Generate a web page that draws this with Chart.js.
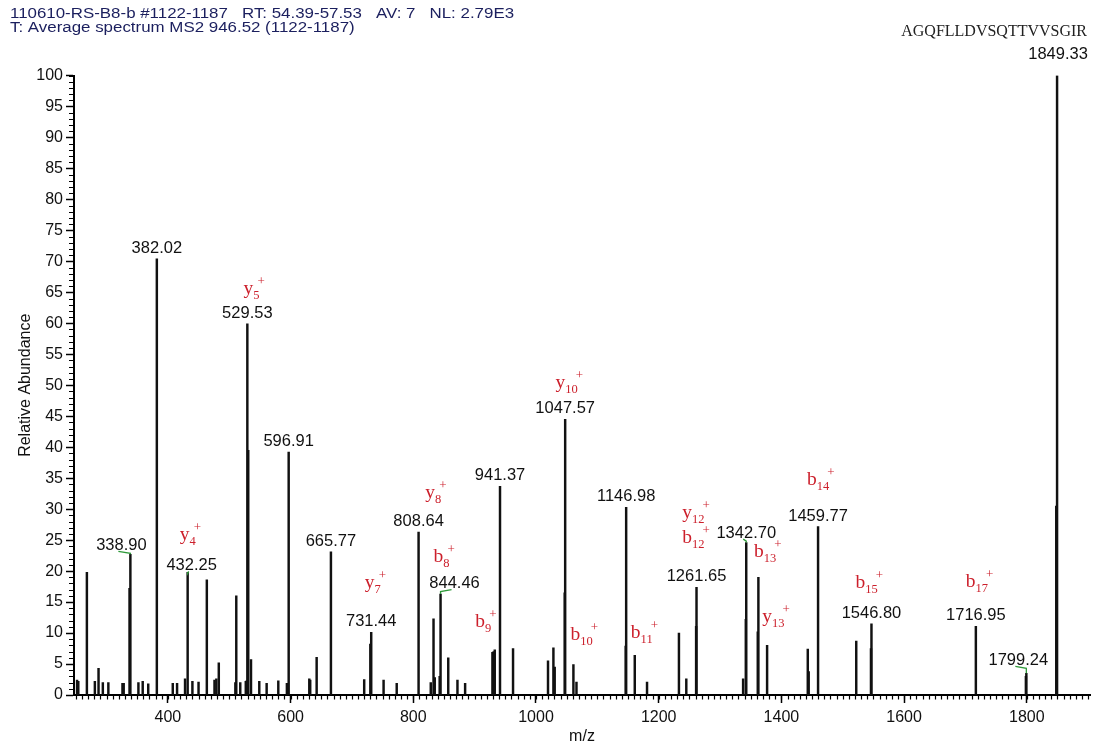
<!DOCTYPE html>
<html>
<head>
<meta charset="utf-8">
<script src="https://cdn.jsdelivr.net/npm/chart.js@4.4.1/dist/chart.umd.min.js"></script>
<style>
html, body { margin: 0; padding: 0; background: #fff; }
</style>
</head>
<body>
<canvas id="spectrumChart" width="1093" height="742"></canvas>
<script>
// Peaks: m/z and relative abundance (%)
const peakMz = [
    252, 254, 268, 281, 287, 294, 303, 326, 328, 337.5, 338.9, 352, 359, 368,
    382.02, 408, 415, 428, 432.25, 440, 450, 463.5, 476, 479, 483, 510, 511.5,
    518, 527, 528.5, 529.53, 531, 535.5, 549, 561, 580, 594, 596.91, 630.5,
    632, 642.5, 665.77, 720, 730, 731.44, 751.6, 773, 808.64, 828.5, 833, 835,
    843, 844.46, 857, 872, 884.5, 929, 931, 932.8, 941.37, 962.6, 1019.6,
    1028.4, 1030.5, 1046.8, 1047.57, 1061, 1066, 1146.2, 1146.98, 1161, 1181,
    1233, 1245, 1261, 1261.65, 1337.6, 1342, 1342.7, 1361.5, 1362.5, 1376.7,
    1443, 1444.5, 1459.77, 1522, 1546, 1546.8, 1716.95, 1798.5, 1799.24,
    1848, 1849.33
];
const peakAbundance = [
    2.4, 2.2, 19.8, 2.2, 4.3, 2.0, 2.0, 1.9, 1.9, 17.2, 22.7, 2.0, 2.2, 1.8,
    70.4, 1.9, 1.9, 2.6, 19.8, 2.2, 2.1, 18.6, 2.4, 2.6, 5.2, 2.0, 16.0,
    2.0, 2.2, 2.3, 59.9, 39.5, 5.7, 2.2, 1.9, 2.3, 1.9, 39.2, 2.6,
    2.4, 6.1, 23.1, 2.5, 8.2, 10.1, 2.4, 1.9, 26.3, 2.0, 12.3, 2.8,
    3.0, 16.3, 6.0, 2.4, 1.9, 6.9, 7.0, 7.3, 33.7, 7.5, 5.5,
    7.6, 4.5, 16.5, 44.5, 4.9, 2.1, 7.9, 30.3, 6.4, 2.1,
    10.0, 2.6, 11.1, 17.4, 2.6, 12.2, 24.6, 10.2, 19.0, 8.0,
    7.4, 3.8, 27.2, 8.7, 7.5, 11.5, 11.1, 3.0, 3.5,
    30.5, 100
];

// Peaks that carry an m/z label
const labelledMz = [
    '338.90', '382.02', '432.25', '529.53', '596.91', '665.77', '731.44',
    '808.64', '844.46', '941.37', '1047.57', '1146.98', '1261.65', '1342.70',
    '1459.77', '1546.80', '1716.95', '1799.24', '1849.33'
];

// Fragment ion annotations: ion letter, index, anchor m/z, anchor abundance
const ionType = ['y', 'y', 'y', 'y', 'b', 'b', 'y', 'b', 'b', 'y', 'b', 'b', 'y', 'b', 'b', 'b'];
const ionIndex = ['4', '5', '7', '8', '8', '9', '10', '10', '11', '12', '12', '13', '13', '14', '15', '17'];
const ionMz = [432.6, 536.5, 734, 832.6, 846, 914, 1050, 1074.5, 1172.4, 1256.5, 1256.5, 1373.4, 1387, 1460, 1539, 1718.6];
const ionLevel = [25.0, 64.8, 17.3, 31.8, 21.5, 11.0, 49.5, 8.9, 9.2, 28.5, 24.5, 22.3, 11.8, 33.9, 17.2, 17.5];

// Axis tick labels
const xTickValues = [400, 600, 800, 1000, 1200, 1400, 1600, 1800];
const yTickValues = [0, 5, 10, 15, 20, 25, 30, 35, 40, 45, 50, 55, 60, 65, 70, 75, 80, 85, 90, 95, 100];

const headerLines = [
    '110610-RS-B8-b #1122-1187   RT: 54.39-57.53   AV: 7   NL: 2.79E3',
    'T: Average spectrum MS2 946.52 (1122-1187)'
];
const peptide = 'AGQFLLDVSQTTVVSGIR';

// label placement tweaks (dx, height above peak top) in px
const labelOffset = {
    '338.90': [-9, 9],
    '432.25': [4, 7],
    '844.46': [14, 10.5],
    '1342.70': [0, 9.5],
    '1799.24': [-8, 13],
    '1849.33': [1, 21]
};
const bracketed = ['338.90', '432.25', '844.46', '1342.70', '1799.24'];

Chart.defaults.font.family = '"Liberation Sans", Arial, sans-serif';

// minor ticks on both axes
const minorTicks = {
    id: 'minorTicks',
    afterDraw(chart) {
        const { ctx, chartArea, scales } = chart;
        ctx.save();
        ctx.strokeStyle = '#000';
        ctx.lineWidth = 1.2;
        ctx.beginPath();
        for (let v = 250; v <= 1900; v += 10) {
            const px = Math.round(scales.x.getPixelForValue(v)) + 0.5;
            ctx.moveTo(px, chartArea.bottom);
            ctx.lineTo(px, chartArea.bottom + 4.5);
        }
        for (let v = 0; v <= 100; v += 1) {
            const py = Math.round(scales.y.getPixelForValue(v)) + 0.5;
            ctx.moveTo(chartArea.left, py);
            ctx.lineTo(chartArea.left - 5, py);
        }
        ctx.stroke();
        ctx.restore();
    }
};

// m/z values over the peaks, and the red b/y ion names
const annotations = {
    id: 'annotations',
    afterDatasetsDraw(chart) {
        const { ctx, scales } = chart;
        const xs = scales.x, ys = scales.y;
        ctx.save();

        ctx.font = '16.5px "Liberation Sans", Arial, sans-serif';
        ctx.textAlign = 'center';
        ctx.textBaseline = 'middle';
        labelledMz.forEach(txt => {
            const m = parseFloat(txt);
            const k = peakMz.indexOf(m);
            const px = xs.getPixelForValue(m);
            const py = ys.getPixelForValue(peakAbundance[k]);
            const off = labelOffset[txt] || [0, 10.5];
            const cx = px + off[0], cy = py - off[1];
            ctx.fillStyle = '#111';
            ctx.fillText(txt, cx, cy);
            if (bracketed.includes(txt)) {
                ctx.strokeStyle = '#2f9a3a';
                ctx.lineWidth = 1.3;
                ctx.beginPath();
                ctx.moveTo(cx - 3, cy + 6);
                ctx.lineTo(px, cy + 8);
                ctx.lineTo(px, py);
                ctx.stroke();
            }
        });

        ctx.fillStyle = '#cc1f2b';
        ctx.textAlign = 'left';
        ctx.textBaseline = 'alphabetic';
        ionType.forEach((t, i) => {
            const x = xs.getPixelForValue(ionMz[i]);
            const y = ys.getPixelForValue(ionLevel[i]);
            ctx.font = '19.5px "Liberation Serif", "Times New Roman", serif';
            const wl = ctx.measureText(t).width;
            ctx.font = '12.5px "Liberation Serif", "Times New Roman", serif';
            const ws = ctx.measureText(ionIndex[i]).width;
            const x0 = x - (wl + ws) / 2;
            ctx.font = '19.5px "Liberation Serif", "Times New Roman", serif';
            ctx.fillText(t, x0, y);
            ctx.font = '12.5px "Liberation Serif", "Times New Roman", serif';
            ctx.fillText(ionIndex[i], x0 + wl, y + 5);
            ctx.font = '13px "Liberation Serif", "Times New Roman", serif';
            ctx.fillText('+', x0 + wl + ws - 2, y - 9);
        });

        ctx.restore();
    },
    afterDraw(chart) {
        const ctx = chart.ctx;
        ctx.save();
        ctx.fillStyle = '#1b1f5e';
        ctx.font = '15.5px "Liberation Sans", Arial, sans-serif';
        ctx.textAlign = 'left';
        ctx.textBaseline = 'middle';
        ctx.translate(10, 0);
        ctx.scale(1.09, 1);
        ctx.fillText(headerLines[0], 0, 13.5);
        ctx.fillText(headerLines[1], 0, 27.5);
        ctx.restore();
        ctx.save();
        ctx.fillStyle = '#222';
        ctx.font = '16px "Liberation Serif", "Times New Roman", serif';
        ctx.textAlign = 'right';
        ctx.textBaseline = 'middle';
        ctx.fillText(peptide, 1087, 32);
        ctx.restore();
    }
};

const ctx = document.getElementById('spectrumChart').getContext('2d');

const spectrumChart = new Chart(ctx, {
    type: 'bar',
    data: {
        datasets: [{
            label: 'Relative Abundance',
            data: peakMz.map((m, i) => ({ x: m, y: peakAbundance[i] })),
            backgroundColor: '#111',
            borderWidth: 0,
            barThickness: 1.8
        }]
    },
    options: {
        responsive: false,
        animation: false,
        layout: { padding: { top: 75.5, right: 3, left: 0, bottom: 0 } },
        plugins: {
            legend: { display: false },
            tooltip: { enabled: false }
        },
        scales: {
            x: {
                type: 'linear',
                offset: false,
                min: 247,
                max: 1903,
                afterBuildTicks: s => { s.ticks = xTickValues.map(v => ({ value: v })); },
                afterFit: s => { s.height = 47; },
                grid: { drawOnChartArea: false, offset: false, tickLength: 8, tickColor: '#000', tickWidth: 1.5 },
                border: { color: '#000', width: 2 },
                ticks: {
                    color: '#111',
                    font: { size: 16 },
                    padding: 5,
                    maxRotation: 0,
                    autoSkip: false,
                    callback: v => String(v)
                },
                title: { display: true, text: 'm/z', color: '#111', font: { size: 16, lineHeight: 1 }, padding: { top: 0, bottom: -3 } }
            },
            y: {
                min: 0,
                max: 100,
                afterBuildTicks: s => { s.ticks = yTickValues.map(v => ({ value: v })); },
                afterFit: s => { s.width = 74; },
                grid: { drawOnChartArea: false, tickLength: 8, tickColor: '#000', tickWidth: 1.5 },
                border: { color: '#000', width: 2 },
                ticks: {
                    color: '#111',
                    font: { size: 16 },
                    padding: 3,
                    autoSkip: false,
                    callback: v => String(v)
                },
                title: { display: true, text: 'Relative Abundance', color: '#111', font: { size: 16 }, padding: { top: 16, bottom: 0 } }
            }
        }
    },
    plugins: [minorTicks, annotations]
});
</script>
</body>
</html>
